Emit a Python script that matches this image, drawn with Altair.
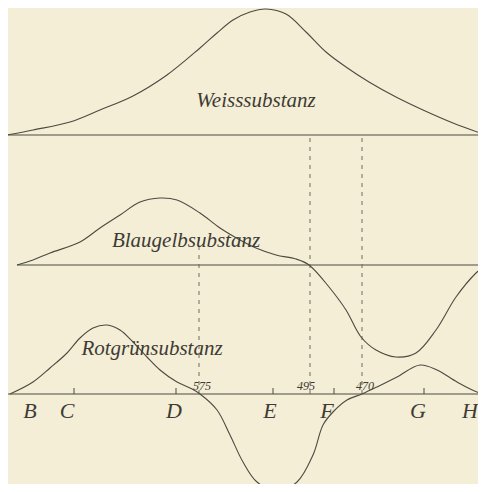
import altair as alt
import pandas as pd

# Spectral position (figure units) and curve heights above each baseline
weiss_x = [7, 33, 70, 100, 133, 167, 200, 217, 233, 250, 266, 286, 306, 326, 346, 369, 396, 423, 453, 483, 486]
weiss_h = [0, 5, 13, 25, 39, 60, 87, 102, 115, 123, 126, 121, 103, 83, 68, 53, 38, 25, 12, 1, 0]

blau_x = [17, 33, 50, 80, 100, 120, 140, 160, 177, 200, 220, 240, 256, 276, 296, 309, 329, 346, 361, 376, 396, 416, 436, 456, 476, 486]
blau_h = [0, 5, 12, 23, 37, 50, 63, 67, 65, 52, 37, 25, 17, 10, 6, 0, -22, -45, -72, -85, -92, -88, -65, -32, -8, 0]

rot_x = [10, 33, 50, 67, 80, 93, 107, 120, 133, 147, 160, 177, 190, 200, 217, 230, 243, 257, 277, 297, 313, 323, 333, 347, 362, 377, 397, 420, 437, 457, 477, 486]
rot_h = [0, 12, 26, 41, 56, 66, 69, 64, 52, 37, 24, 12, 6, 0, -16, -41, -68, -88, -97, -88, -61, -31, -18, -6, 0, 7, 17, 29, 24, 12, 2, 0]

curve_names = ["Weisssubstanz", "Blaugelbsubstanz", "Rotgrünsubstanz"]
baseline_level = [357, 227, 98]
baseline_start = [7, 17, 8]
label_x = [256, 186, 152]
label_level = [385, 245, 137]

fraunhofer = ["B", "C", "D", "E", "F", "G", "H"]
fraunhofer_label_x = [30, 67, 174, 270, 327, 418, 470]
fraunhofer_tick_x = [74, 176, 273, 334, 424]

wavelengths = ["575", "495", "470"]
wavelength_x = [199, 310, 362]
wavelength_label_x = [202, 306, 365]
wavelength_top = [260, 357, 357]

rows = []
for name, xs, hs, base in zip(curve_names, [weiss_x, blau_x, rot_x], [weiss_h, blau_h, rot_h], baseline_level):
    for i, (x, h) in enumerate(zip(xs, hs)):
        rows.append({"curve": name, "order": i, "x": x, "y": base + h})
curves = pd.DataFrame(rows)

bases = pd.DataFrame({"curve": curve_names, "x": baseline_start, "x2": [486] * 3, "y": baseline_level})
labels = pd.DataFrame({"text": curve_names, "x": label_x, "y": label_level})
letters = pd.DataFrame({"text": fraunhofer, "x": fraunhofer_label_x, "y": [74] * len(fraunhofer)})
ticks = pd.DataFrame({"x": fraunhofer_tick_x, "y": [98] * len(fraunhofer_tick_x), "y2": [104] * len(fraunhofer_tick_x)})
wl_lines = pd.DataFrame({"x": wavelength_x, "y": [98] * 3, "y2": wavelength_top})
wl_labels = pd.DataFrame({"text": wavelengths, "x": wavelength_label_x, "y": [102] * 3})

xs = alt.Scale(domain=[8, 478], nice=False, zero=False)
ys = alt.Scale(domain=[8, 484], nice=False, zero=False)
X = lambda f="x": alt.X(f"{f}:Q", scale=xs, axis=None)
Y = lambda f="y": alt.Y(f"{f}:Q", scale=ys, axis=None)

ink = "#4d4a42"
font = "Liberation Serif"

line_layer = alt.Chart(curves).mark_line(color=ink, strokeWidth=1.1, interpolate="catmull-rom", clip=True).encode(
    x=X(), y=Y(), detail="curve:N", order="order:Q")
base_layer = alt.Chart(bases).mark_rule(color=ink, strokeWidth=1.1, clip=True).encode(
    x=X(), x2="x2:Q", y=Y())
tick_layer = alt.Chart(ticks).mark_rule(color=ink, strokeWidth=1).encode(x=X(), y=Y(), y2="y2:Q")
dash_layer = alt.Chart(wl_lines).mark_rule(color="#6e6a60", strokeWidth=1, strokeDash=[4, 5]).encode(
    x=X(), y=Y(), y2="y2:Q")
label_layer = alt.Chart(labels).mark_text(font=font, fontStyle="italic", fontSize=21, color="#3e3b35",
                                          baseline="alphabetic", align="center").encode(x=X(), y=Y(), text="text:N")
letter_layer = alt.Chart(letters).mark_text(font=font, fontStyle="italic", fontSize=22, color="#3e3b35",
                                            baseline="alphabetic", align="center").encode(x=X(), y=Y(), text="text:N")
wl_layer = alt.Chart(wl_labels).mark_text(font=font, fontStyle="italic", fontSize=12, color="#3e3b35",
                                          baseline="alphabetic", align="center").encode(x=X(), y=Y(), text="text:N")

chart = alt.layer(base_layer, dash_layer, tick_layer, line_layer, label_layer, letter_layer, wl_layer).properties(
    width=470, height=476, background="#f3eed5", padding=0,
    autosize=alt.AutoSizeParams(type="none"),
).configure_view(stroke=None)

chart.save("out.html", embed_options={"renderer": "svg", "actions": False})
